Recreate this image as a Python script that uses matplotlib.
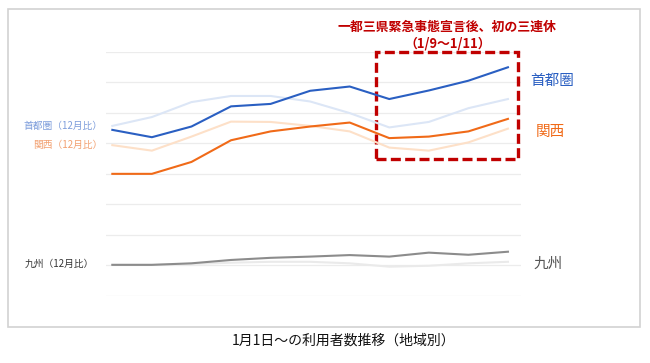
import matplotlib
matplotlib.use("Agg")
import matplotlib.pyplot as plt
from matplotlib.patches import Rectangle
import numpy as np

plt.rcParams["font.family"] = ["Noto Sans CJK JP", "DejaVu Sans"]

DAYS = ["1/1", "1/2", "1/3", "1/4", "1/5", "1/6", "1/7", "1/8", "1/9", "1/10", "1/11"]
# index values (grid step = 10)
shuto = [54.4, 52.0, 55.5, 62.1, 62.9, 67.2, 68.6, 64.5, 67.3, 70.5, 74.9]
shuto_dec = [55.7, 58.6, 63.5, 65.5, 65.5, 63.7, 59.9, 55.2, 57.0, 61.5, 64.5]
kansai = [40.0, 40.0, 43.9, 51.0, 53.9, 55.5, 56.8, 51.7, 52.2, 53.9, 58.0]
kansai_dec = [49.4, 47.6, 52.2, 57.1, 57.0, 55.7, 53.9, 48.6, 47.6, 50.3, 54.8]
kyushu = [10.2, 10.2, 10.7, 11.8, 12.5, 12.9, 13.4, 12.9, 14.2, 13.5, 14.5]
kyushu_dec = [10.2, 10.2, 10.5, 10.9, 11.2, 11.2, 10.7, 9.6, 9.9, 10.7, 11.2]

BLUE = "#2a5fc2"
BLUE_LIGHT = "#dce6f6"
ORANGE = "#f06a18"
ORANGE_LIGHT = "#fde0c8"
GRAY = "#8c8c8c"
GRAY_LIGHT = "#eaeaea"
RED = "#c00000"

fig = plt.figure(figsize=(6.5, 3.63), dpi=100)
fig.patches.append(Rectangle((7.5 / 650, 1 - 327 / 363), 632.5 / 650, 318 / 363,
                             transform=fig.transFigure, fill=False,
                             edgecolor="#d2d2d2", linewidth=1.2))

ax = fig.add_axes([106 / 650, 1 - 296 / 363, 415 / 650, 244.3 / 363])
x = np.arange(len(DAYS))

for y in range(0, 81, 10):
    ax.axhline(y, color="#ececec", linewidth=0.9, zorder=0)

ax.plot(x, kyushu_dec, color=GRAY_LIGHT, linewidth=1.5)
ax.plot(x, kansai_dec, color=ORANGE_LIGHT, linewidth=1.5)
ax.plot(x, shuto_dec, color=BLUE_LIGHT, linewidth=1.5)
ax.plot(x, kyushu, color=GRAY, linewidth=1.5)
ax.plot(x, kansai, color=ORANGE, linewidth=1.5)
ax.plot(x, shuto, color=BLUE, linewidth=1.5)

ax.set_xlim(-0.16, 10.33)
ax.set_ylim(0, 80)
ax.axis("off")

# holiday box
ax.add_patch(Rectangle((6.66, 44.9), 3.59, 35.0, fill=False, edgecolor=RED,
                       linewidth=2.4, linestyle=(0, (3, 1.3)), clip_on=False))
fig.text(447 / 650, 1 - 27 / 363, "一都三県緊急事態宣言後、初の三連休", color=RED,
         fontsize=9.3, fontweight="bold", ha="center", va="center")
fig.text(448 / 650, 1 - 43 / 363, "（1/9～1/11）", color=RED,
         fontsize=9.3, fontweight="bold", ha="center", va="center")

# right labels
fig.text(530 / 650, 1 - 81 / 363, "首都圏", color=BLUE, fontsize=10.5,
         ha="left", va="center")
fig.text(536 / 650, 1 - 132 / 363, "関西", color=ORANGE, fontsize=10.5,
         ha="left", va="center")
fig.text(534 / 650, 1 - 264 / 363, "九州", color="#555555", fontsize=10.5,
         ha="left", va="center")

# left labels
fig.text(103 / 650, 1 - 126 / 363, "首都圏（12月比）", color="#7d9ddb", fontsize=7,
         ha="right", va="center")
fig.text(103 / 650, 1 - 145 / 363, "関西（12月比）", color="#f2a070", fontsize=7,
         ha="right", va="center")
fig.text(94 / 650, 1 - 264 / 363, "九州（12月比）", color="#333333", fontsize=7,
         ha="right", va="center")

fig.text(344 / 650, 1 - 341 / 363, "1月1日～の利用者数推移（地域別）", color="#111111",
         fontsize=10, ha="center", va="center")

fig.savefig("out.png", dpi=100)
